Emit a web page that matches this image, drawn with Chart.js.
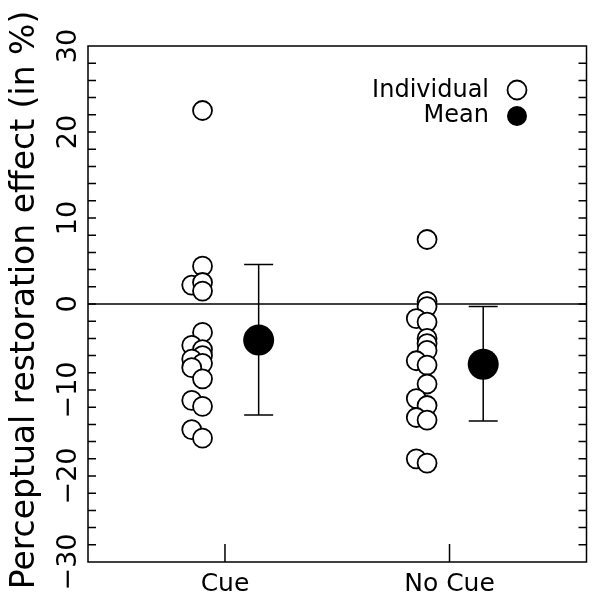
<!DOCTYPE html>
<html>
<head>
<meta charset="utf-8">
<script src="https://cdn.jsdelivr.net/npm/chart.js@4"></script>
<style>
html, body { margin: 0; padding: 0; background: #fff; }
</style>
</head>
<body>
<canvas id="chart" width="602" height="597"></canvas>
<script>
const categories = ['Cue', 'No Cue'];
const yTickValues = [-30, -20, -10, 0, 10, 20, 30];
const yTitle = 'Perceptual restoration effect (in %)';
const legendLabels = ['Individual', 'Mean'];

// individual values per participant, side = which column of the dot stack (0 right, 1 left)
const cueValues = [22.5, 4.4, 2.2, 2.5, 1.5, -3.3, -4.8, -5.3, -6.0, -6.4, -6.9, -7.4, -8.7, -11.2, -11.9, -14.6, -15.6];
const cueSide   = [0, 0, 1, 0, 0, 0, 1, 0, 0, 1, 0, 1, 0, 1, 0, 1, 0];
const noCueValues = [7.5, 0.3, -0.3, -1.7, -2.1, -4.0, -4.6, -5.4, -6.6, -7.1, -9.3, -11.0, -11.8, -13.2, -13.5, -18.0, -18.5];
const noCueSide   = [0, 0, 0, 1, 0, 0, 0, 0, 1, 0, 0, 1, 0, 1, 0, 1, 0];

const meanValues = [-4.2, -7.0];
const errorLow = [-12.9, -13.6];
const errorHigh = [4.6, -0.3];

const FONT = 'DejaVu Sans';

function individualPoints(values, side, cat) {
    return values.map((v, i) => ({ x: cat - 0.1 - 0.048 * side[i], y: v }));
}

const framePlugin = {
    id: 'frame',
    beforeDatasetsDraw(chart) {
        const ctx = chart.ctx;
        const area = chart.chartArea;
        const xs = chart.scales.x;
        const ys = chart.scales.y;
        ctx.save();
        ctx.strokeStyle = '#000';
        ctx.lineWidth = 1.5;
        // zero line
        const y0 = ys.getPixelForValue(0);
        ctx.beginPath();
        ctx.moveTo(area.left, y0);
        ctx.lineTo(area.right, y0);
        ctx.stroke();
        // error bars
        meanValues.forEach((m, i) => {
            const x = xs.getPixelForValue(i + 1.15);
            const yl = ys.getPixelForValue(errorLow[i]);
            const yh = ys.getPixelForValue(errorHigh[i]);
            ctx.beginPath();
            ctx.moveTo(x, yl); ctx.lineTo(x, yh);
            ctx.moveTo(x - 14.5, yl); ctx.lineTo(x + 14.5, yl);
            ctx.moveTo(x - 14.5, yh); ctx.lineTo(x + 14.5, yh);
            ctx.stroke();
        });
        ctx.restore();
    },
    afterDatasetsDraw(chart) {
        const ctx = chart.ctx;
        const area = chart.chartArea;
        const xs = chart.scales.x;
        const ys = chart.scales.y;
        ctx.save();
        ctx.strokeStyle = '#000';
        ctx.lineWidth = 1.5;
        ctx.strokeRect(area.left, area.top, area.right - area.left, area.bottom - area.top);
        // inward ticks on left and right
        ctx.beginPath();
        for (let v = -28; v <= 28; v += 2) {
            const y = ys.getPixelForValue(v);
            ctx.moveTo(area.left, y); ctx.lineTo(area.left + 8, y);
            ctx.moveTo(area.right, y); ctx.lineTo(area.right - 8, y);
        }
        categories.forEach((c, i) => {
            const x = xs.getPixelForValue(i + 1);
            ctx.moveTo(x, area.bottom); ctx.lineTo(x, area.bottom - 18);
        });
        ctx.stroke();

        // rotated y tick labels
        ctx.fillStyle = '#000';
        ctx.font = '27px "' + FONT + '"';
        ctx.textAlign = 'center';
        ctx.textBaseline = 'middle';
        yTickValues.forEach(v => {
            ctx.save();
            ctx.translate(69, ys.getPixelForValue(v));
            ctx.rotate(-Math.PI / 2);
            ctx.fillText(v < 0 ? '\u2212' + Math.abs(v) : String(v), 0, 0);
            ctx.restore();
        });
        // y title
        ctx.save();
        ctx.font = '33px "' + FONT + '"';
        ctx.translate(25, (area.top + area.bottom) / 2 - 4);
        ctx.rotate(-Math.PI / 2);
        ctx.fillText(yTitle, 0, 0);
        ctx.restore();

        // legend
        ctx.font = '24px "' + FONT + '"';
        ctx.textAlign = 'right';
        ctx.fillText(legendLabels[0], 489, 91);
        ctx.fillText(legendLabels[1], 489, 116);
        ctx.lineWidth = 1.8;
        ctx.beginPath();
        ctx.arc(517, 90, 9.5, 0, Math.PI * 2);
        ctx.fillStyle = '#fff';
        ctx.fill();
        ctx.stroke();
        ctx.beginPath();
        ctx.arc(517, 116, 10, 0, Math.PI * 2);
        ctx.fillStyle = '#000';
        ctx.fill();
        ctx.restore();
    }
};

const ctx = document.getElementById('chart').getContext('2d');
const chart = new Chart(ctx, {
    type: 'scatter',
    data: {
        datasets: [
            {
                label: legendLabels[0],
                data: individualPoints(cueValues, cueSide, 1).concat(individualPoints(noCueValues, noCueSide, 2)),
                pointRadius: 9.5,
                pointBorderWidth: 1.8,
                pointBackgroundColor: '#fff',
                pointBorderColor: '#000'
            },
            {
                label: legendLabels[1],
                data: meanValues.map((m, i) => ({ x: i + 1.15, y: m })),
                pointRadius: 15.5,
                pointBorderWidth: 0,
                pointBackgroundColor: '#000',
                pointBorderColor: '#000'
            }
        ]
    },
    options: {
        responsive: false,
        animation: false,
        layout: { padding: { left: 88, top: 46, right: 2, bottom: 0 } },
        plugins: {
            legend: { display: false },
            tooltip: { enabled: false }
        },
        scales: {
            x: {
                type: 'linear',
                min: 0.39,
                max: 2.61,
                afterBuildTicks: s => { s.ticks = [{ value: 1 }, { value: 2 }]; },
                afterFit: s => { s.height = 35; },
                ticks: {
                    callback: v => categories[v - 1],
                    font: { family: FONT, size: 25 },
                    color: '#000',
                    padding: 7,
                    maxRotation: 0,
                    autoSkip: false
                },
                grid: { display: false, drawTicks: false },
                border: { display: false }
            },
            y: {
                min: -30,
                max: 30,
                display: false
            }
        }
    },
    plugins: [framePlugin]
});
</script>
</body>
</html>
